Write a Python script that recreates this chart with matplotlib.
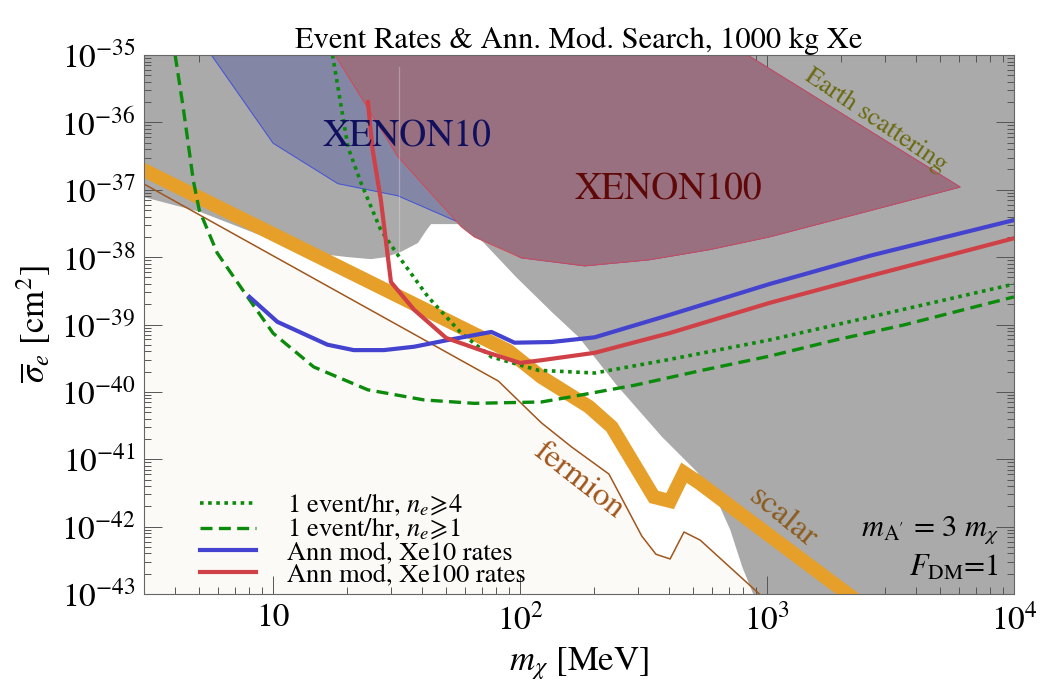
import numpy as np
import matplotlib.pyplot as plt
from matplotlib.lines import Line2D
from matplotlib.ticker import FixedLocator, NullFormatter

plt.rcParams['font.family'] = 'STIXGeneral'
plt.rcParams['mathtext.fontset'] = 'stix'

# ---- values: m_chi [MeV], log10(sigma_e / cm^2) ----
# lower edge of the grey excluded region (everything above it is grey)
grey_m = [3, 5.07, 10.0, 12.9, 20.1, 24.9, 28.6, 33.0, 38.6, 41.6, 43.6, 56.2,
          69.7, 96.6, 134, 173, 246, 376, 521, 640, 710, 794, 888]
grey_ls = [-37.11, -37.33, -37.75, -37.92, -38.00, -38.03, -38.00, -37.92, -37.79,
           -37.61, -37.51, -37.51, -37.75, -38.30, -38.81, -39.19, -39.90, -40.67,
           -41.19, -41.68, -42.05, -42.60, -43.04]

xe10_m = [5.62, 10.0, 18.3, 32.0, 56.2, 101, 183, 333, 583, 1022, 6053, 832]
xe10_ls = [-35.0, -36.31, -36.91, -37.09, -37.48, -38.01, -38.13, -38.04, -37.89,
           -37.70, -36.96, -35.0]

xe100_m = [17.8, 32.0, 57.8, 65.2, 101, 183, 333, 583, 1022, 6053, 832]
xe100_ls = [-35.0, -36.51, -37.55, -37.70, -38.01, -38.13, -38.04, -37.89, -37.70,
            -36.96, -35.0]

seam_m = [32.3, 32.3]
seam_ls = [-35.18, -37.94]

scalar_m = [3, 89.7, 122, 190, 235, 348, 405, 461, 531, 2287]
scalar_ls = [-36.71, -39.39, -39.78, -40.22, -40.52, -41.56, -41.62, -41.20, -41.35, -43.09]

fermion_m = [3, 81.7, 122, 162, 229, 311, 355, 405, 461, 536, 957]
fermion_ls = [-36.915, -39.84, -40.46, -40.82, -41.22, -42.14, -42.41, -42.48, -42.08,
              -42.20, -43.04]

ne4_m = [17.4, 20.1, 22.7, 27.3, 33.0, 42.4, 57.8, 76.5, 118.8, 200.6, 401, 1022, 2607, 10000]
ne4_ls = [-35.0, -36.37, -36.90, -37.60, -38.04, -38.59, -39.13, -39.48, -39.68, -39.72,
          -39.52, -39.23, -38.89, -38.40]

ne1_m = [4.01, 4.32, 4.75, 5.02, 5.94, 7.87, 10.0, 14.6, 24.2, 40.9, 65.2, 122, 157, 292,
         546, 1022, 1896, 3551, 10000]
ne1_ls = [-35.0, -35.77, -36.86, -37.30, -37.94, -38.59, -39.13, -39.63, -39.97, -40.12,
          -40.17, -40.15, -40.08, -39.90, -39.68, -39.47, -39.23, -39.01, -38.59]

xe10rate_m = [8.02, 10.4, 16.6, 21.2, 28.1, 37.2, 51.1, 76.5, 94.9, 134, 200.6, 401, 1022,
              2607, 10000]
xe10rate_ls = [-38.59, -38.96, -39.30, -39.38, -39.38, -39.33, -39.23, -39.11, -39.27,
               -39.26, -39.19, -38.86, -38.40, -37.98, -37.45]

xe100rate_m = [24.2, 25.3, 27.3, 30.0, 37.2, 50.2, 74.4, 100, 122, 200.6, 401, 1022, 2607, 10000]
xe100rate_ls = [-35.70, -36.41, -37.15, -38.37, -38.78, -39.20, -39.42, -39.57, -39.53,
                -39.42, -39.13, -38.68, -38.28, -37.72]

x_ticks = [10, 100, 1000, 10000]
x_ticklabels = ['10', '$10^2$', '$10^3$', '$10^4$']
y_exps = list(range(-43, -34))

legend_labels = ['1 event/hr, $n_e\\!\\geqslant\\!4$', '1 event/hr, $n_e\\!\\geqslant\\!1$',
                 'Ann mod, Xe10 rates', 'Ann mod, Xe100 rates']

def p(ls):
    return 10.0 ** np.array(ls)

GREEN = '#0b8a0b'
BLUE = '#4343cf'
RED = '#cf4146'
ORANGE = '#e6a02a'
BROWN = '#a0561c'

fig = plt.figure(figsize=(10.42, 6.96), dpi=100)
ax = fig.add_axes([144 / 1042, 1 - 594 / 696, 870 / 1042, 539 / 696])
ax.set_xscale('log')
ax.set_yscale('log')
xlo, xhi, ylo, yhi = 3, 1e4, 1e-43, 1e-35

# light area under the fermion line
fm = np.r_[fermion_m, fermion_m[-1], 2.0]
fl = np.r_[p(fermion_ls), 1e-45, 1e-45]
ax.fill(fm, fl, color='#fcfaf7', lw=0, zorder=0.5)

# grey region
gm = np.r_[2.0, grey_m, 2e4, 2e4, 2.0]
gl = np.r_[p(grey_ls[0]), p(grey_ls), 1e-45, 1e-33, 1e-33]
ax.fill(gm, gl, color='#aaaaaa', lw=0, zorder=1)

ax.fill(xe10_m, p(xe10_ls), facecolor='#8486a5', edgecolor='#3f50d8', lw=0.7, zorder=2)
ax.fill(xe100_m, p(xe100_ls), facecolor='#987080', edgecolor='#d24a55', lw=0.7, zorder=3)
ax.plot(seam_m, p(seam_ls), color='white', alpha=0.28, lw=0.9, zorder=3.5)

ax.plot(scalar_m, p(scalar_ls), color=ORANGE, lw=10, solid_joinstyle='miter', zorder=4)
ax.plot(fermion_m, p(fermion_ls), color=BROWN, lw=1.1, zorder=4)

ax.plot(ne4_m, p(ne4_ls), color=GREEN, lw=2.6, ls=(0, (1.0, 1.25)), zorder=5)
ax.plot(ne1_m, p(ne1_ls), color=GREEN, lw=2.4, ls=(0, (3.6, 1.9)), zorder=5)
ax.plot(xe10rate_m, p(xe10rate_ls), color=BLUE, lw=3.0, zorder=6)
ax.plot(xe100rate_m, p(xe100rate_ls), color=RED, lw=3.0, zorder=6)

ax.set_xlim(xlo, xhi)
ax.set_ylim(ylo, yhi)

# ticks
ax.xaxis.set_major_locator(FixedLocator(x_ticks))
ax.set_xticklabels(x_ticklabels)
xminor = [k * 10 ** e for e in range(0, 4) for k in range(2, 10)]
ax.xaxis.set_minor_locator(FixedLocator(xminor))
ax.xaxis.set_minor_formatter(NullFormatter())
ax.yaxis.set_major_locator(FixedLocator([10.0 ** e for e in y_exps]))
ax.set_yticklabels(['$10^{%d}$' % e for e in y_exps])
yminor = [k * 10.0 ** e for e in range(-44, -34) for k in range(2, 10)]
ax.yaxis.set_minor_locator(FixedLocator(yminor))
ax.yaxis.set_minor_formatter(NullFormatter())
ax.tick_params(which='both', direction='in', top=True, right=True, colors='#555555',
               labelcolor='black', width=0.7)
ax.tick_params(which='major', length=13, labelsize=24)
ax.tick_params(which='minor', length=5)
ax.tick_params(axis='x', pad=7)
ax.tick_params(axis='y', pad=6)
for s in ax.spines.values():
    s.set_color('#666666')
    s.set_linewidth(0.8)
    s.set_zorder(10)

ax.set_xlabel('$m_\\chi$ [MeV]', fontsize=25, labelpad=6)
ax.set_ylabel('$\\overline{\\sigma}_e$ [cm$^2$]', fontsize=25, labelpad=6)
ax.set_title('Event Rates & Ann. Mod. Search, 1000 kg Xe', fontsize=22, pad=5)

# labels inside the plot
ax.text(15.9, 10 ** -36.22, 'XENON10', fontsize=27, color='#10105e', va='center', zorder=8)
ax.text(167, 10 ** -37.0, 'XENON100', fontsize=27, color='#600808', va='center', zorder=8)
ax.text(2750, 10 ** -35.98, 'Earth scattering', fontsize=19, color='#6b6a10',
        rotation=-34, ha='center', va='center', rotation_mode='anchor', zorder=8)
ax.text(172, 10 ** -41.31, 'fermion', fontsize=24, color=BROWN,
        rotation=-38, ha='center', va='center', rotation_mode='anchor', zorder=8)
ax.text(1157, 10 ** -41.86, 'scalar', fontsize=24, color='#8c5c1e',
        rotation=-39, ha='center', va='center', rotation_mode='anchor', zorder=8)
ax.text(0.9835, 0.118, "$m_{\\mathrm{A'}}$ = 3 $m_\\chi$", transform=ax.transAxes,
        fontsize=22, ha='right', va='center', zorder=8)
ax.text(0.982, 0.047, '$F_{\\mathrm{DM}}$=1', transform=ax.transAxes, fontsize=22,
        ha='right', va='center', zorder=8)

handles = [Line2D([], [], color=GREEN, lw=2.6, ls=(0, (1.0, 1.25))),
           Line2D([], [], color=GREEN, lw=2.4, ls=(0, (3.6, 1.9))),
           Line2D([], [], color=BLUE, lw=3.0),
           Line2D([], [], color=RED, lw=3.0)]
leg = ax.legend(handles, legend_labels, loc='lower left', bbox_to_anchor=(0.064, 0.012),
                frameon=False, fontsize=19, handlelength=2.12, handletextpad=1.2,
                labelspacing=-0.08, borderaxespad=0, borderpad=0)
leg.set_zorder(9)

fig.savefig('out.png', dpi=100)
